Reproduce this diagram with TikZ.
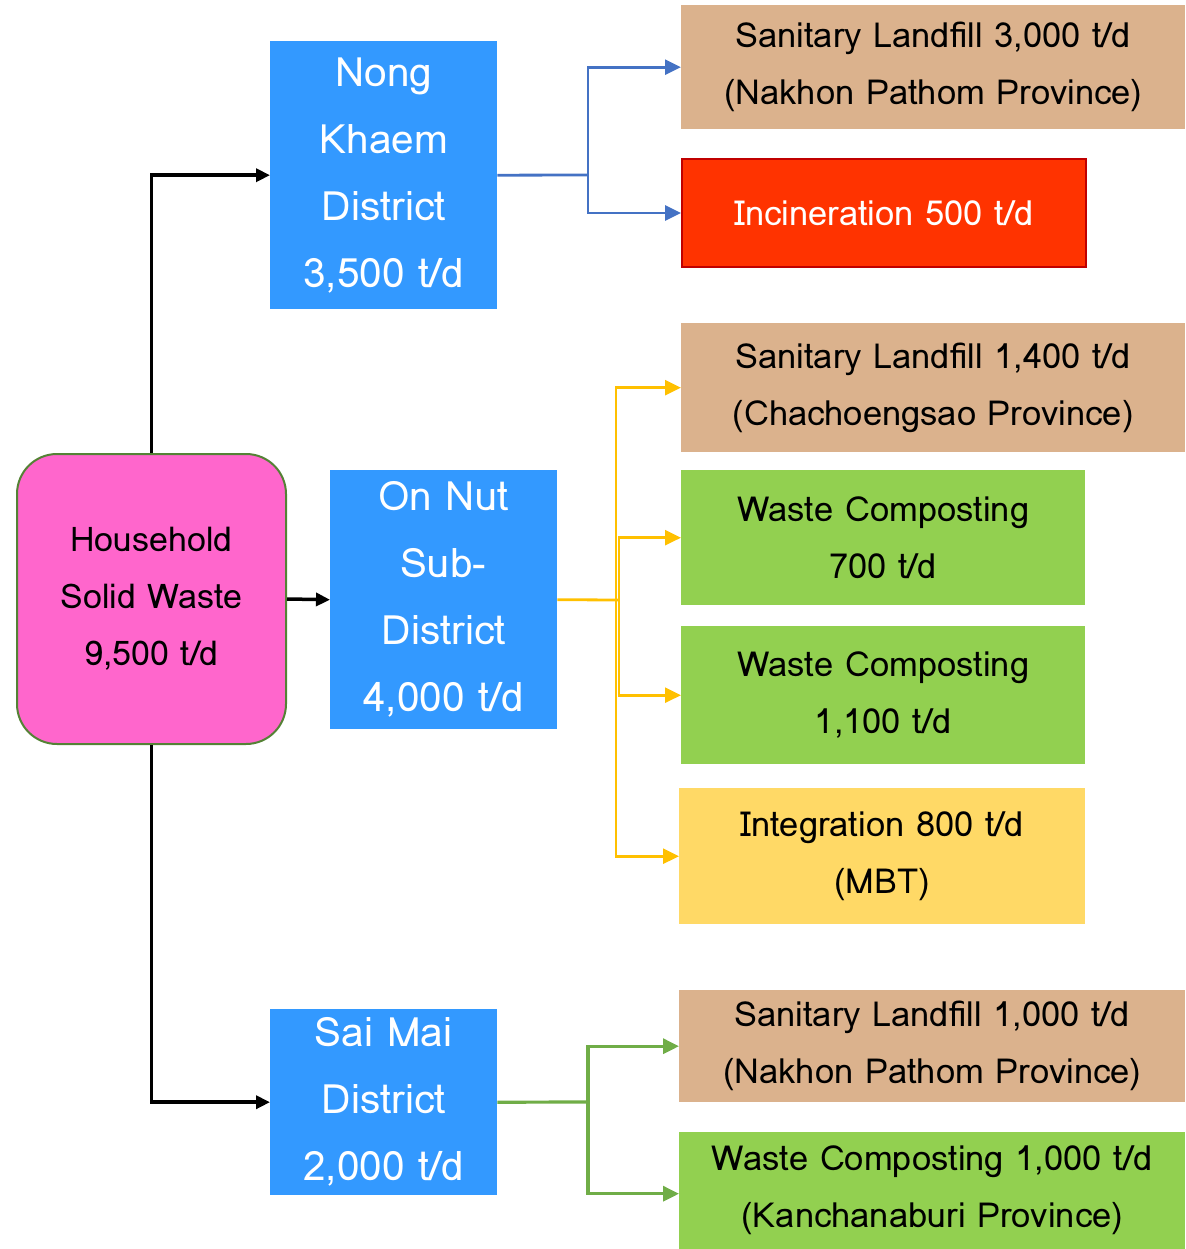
\documentclass[tikz,border=0pt]{standalone}
\usepackage{fontspec}
\setmainfont{Loma}
\usetikzlibrary{arrows.meta}
\definecolor{boxblue}{HTML}{3399FF}
\definecolor{pinkbox}{HTML}{FF66CC}
\definecolor{pinkborder}{HTML}{548235}
\definecolor{tanbox}{HTML}{DBB28D}
\definecolor{greenbox}{HTML}{92D050}
\definecolor{yellowbox}{HTML}{FFD966}
\definecolor{redbox}{HTML}{FF3300}
\definecolor{redborder}{HTML}{C00000}
\definecolor{bluearrow}{HTML}{4472C4}
\definecolor{yellowarrow}{HTML}{FFC000}
\definecolor{greenarrow}{HTML}{70AD47}
\tikzset{
  base/.style={inner sep=0pt, align=center, anchor=north west},
  district/.style={base, fill=boxblue, text=white, font=\fontsize{40.5}{67}\selectfont},
  dest/.style={base, font=\fontsize{34.5}{57}\selectfont},
  conn/.style={line width=3.5pt, -{Triangle[length=14pt,width=13pt]}},
  branch/.style={line width=2.8pt, -{Triangle[length=16pt,width=15pt]}},
}
\begin{document}
\begin{tikzpicture}[x=1pt,y=-1pt]
\useasboundingbox (0,0) rectangle (1185,1249);
% source
\node[base, fill=pinkbox, draw=pinkborder, line width=2pt, rounded corners=40pt,
  minimum width=269pt, minimum height=290pt, font=\fontsize{34}{57}\selectfont]
  (hh) at (16,453) {Household\\Solid Waste\\9,500 t/d};
% districts
\node[district, minimum width=227pt, minimum height=268pt] (nk) at (270,41) {Nong\\Khaem\\District\\3,500 t/d};
\node[district, minimum width=227pt, minimum height=259pt] (on) at (330,470) {On Nut\\Sub-\\District\\4,000 t/d};
\node[district, minimum width=227pt, minimum height=186pt] (sm) at (270,1009) {Sai Mai\\District\\2,000 t/d};
% destinations
\node[dest, fill=tanbox, minimum width=504pt, minimum height=124pt] (sl1) at (681,5) {Sanitary Landfill 3,000 t/d\\(Nakhon Pathom Province)};
\node[dest, fill=redbox, draw=redborder, line width=2pt, text=white, minimum width=404pt, minimum height=108pt] (inc) at (681,158) {Incineration 500 t/d};
\node[dest, fill=tanbox, minimum width=504pt, minimum height=129pt] (sl2) at (681,323) {Sanitary Landfill 1,400 t/d\\(Chachoengsao Province)};
\node[dest, fill=greenbox, minimum width=404pt, minimum height=135pt] (wc1) at (681,470) {Waste Composting\\700 t/d};
\node[dest, fill=greenbox, minimum width=404pt, minimum height=138pt] (wc2) at (681,626) {Waste Composting\\1,100 t/d};
\node[dest, fill=yellowbox, minimum width=406pt, minimum height=136pt] (mbt) at (679,788) {Integration 800 t/d\\(MBT)};
\node[dest, fill=tanbox, minimum width=506pt, minimum height=112pt] (sl3) at (679,990) {Sanitary Landfill 1,000 t/d\\(Nakhon Pathom Province)};
\node[dest, fill=greenbox, minimum width=506pt, minimum height=117pt] (wc3) at (679,1132) {Waste Composting 1,000 t/d\\(Kanchanaburi Province)};
% black connectors
\draw[conn] (hh.north) |- (nk.west);
\draw[conn] (hh.east) -- (on.west);
\draw[conn] (hh.south) |- (sm.west);
% blue branch
\coordinate (bj) at (588,175);
\draw[line width=2.8pt, bluearrow] (nk.east) -- (bj);
\draw[branch, bluearrow] (bj) |- (sl1.west);
\draw[branch, bluearrow] (bj) |- (inc.west);
% yellow branch
\coordinate (yj) at (616,600);
\coordinate (yj2) at (619,600);
\draw[line width=2.8pt, yellowarrow] (on.east) -- (yj2);
\draw[branch, yellowarrow] (yj) |- (sl2.west);
\draw[branch, yellowarrow] (yj) |- (mbt.west);
\draw[branch, yellowarrow] (yj2) |- (wc1.west);
\draw[branch, yellowarrow] (yj2) |- (wc2.west);
% green branch
\coordinate (gj) at (588,1102);
\draw[line width=3.2pt, greenarrow] (sm.east) -- (gj);
\draw[branch, greenarrow, line width=3.2pt] (gj) |- (sl3.west);
\draw[branch, greenarrow, line width=3.2pt] (gj) |- ([yshift=-3pt]wc3.west);
\end{tikzpicture}
\end{document}
